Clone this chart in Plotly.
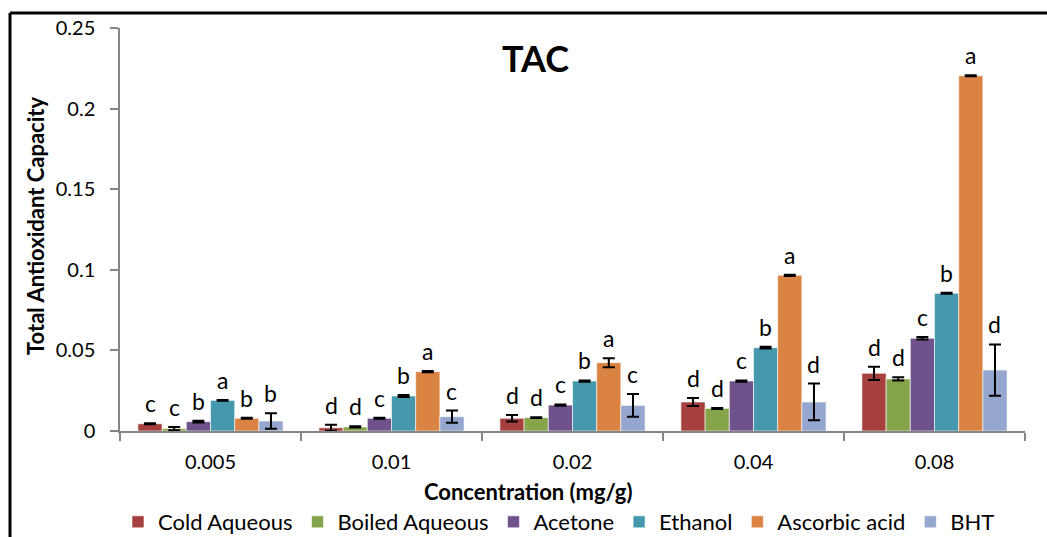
import plotly.graph_objects as go

categories = ["0.005", "0.01", "0.02", "0.04", "0.08"]
series_names = ["Cold Aqueous", "Boiled Aqueous", "Acetone", "Ethanol", "Ascorbic acid", "BHT"]

cold_aqueous = [0.0045, 0.0020, 0.0079, 0.0180, 0.0358]
boiled_aqueous = [0.0015, 0.0025, 0.0083, 0.0140, 0.0323]
acetone = [0.0058, 0.0079, 0.0161, 0.0310, 0.0575]
ethanol = [0.0190, 0.0217, 0.0310, 0.0517, 0.0854]
ascorbic_acid = [0.0079, 0.0368, 0.0424, 0.0966, 0.2204]
bht = [0.0062, 0.0089, 0.0159, 0.0180, 0.0378]

cold_aqueous_err = [0.0003, 0.0018, 0.0020, 0.0025, 0.0041]
boiled_aqueous_err = [0.0010, 0.0004, 0.0003, 0.0003, 0.0010]
acetone_err = [0.0005, 0.0003, 0.0004, 0.0004, 0.0008]
ethanol_err = [0.0003, 0.0006, 0.0004, 0.0005, 0.0003]
ascorbic_acid_err = [0.0003, 0.0004, 0.0028, 0.0004, 0.0003]
bht_err = [0.0048, 0.0038, 0.0071, 0.0114, 0.0159]

cold_aqueous_letters = ["c", "d", "d", "d", "d"]
boiled_aqueous_letters = ["c", "d", "d", "d", "d"]
acetone_letters = ["b", "c", "c", "c", "c"]
ethanol_letters = ["a", "b", "b", "b", "b"]
ascorbic_acid_letters = ["b", "a", "a", "a", "a"]
bht_letters = ["b", "c", "c", "d", "d"]

colors = ["#A5403E", "#86A44A", "#6F528C", "#4598AE", "#DA8343", "#95A7CF"]

values = [cold_aqueous, boiled_aqueous, acetone, ethanol, ascorbic_acid, bht]
errors = [cold_aqueous_err, boiled_aqueous_err, acetone_err, ethanol_err, ascorbic_acid_err, bht_err]
letters = [cold_aqueous_letters, boiled_aqueous_letters, acetone_letters, ethanol_letters,
           ascorbic_acid_letters, bht_letters]

FONT = "Lato"
W, H = 1047, 537
L, R, T, B = 120, 22, 28, 106
PW, PH = W - L - R, H - T - B


def px_x(px):
    return (px - L) / PW


def px_y(py):
    return (H - B - py) / PH


fig = go.Figure()
xs = list(range(len(categories)))
n = len(series_names)
bar_w = 0.802 / n

annotations = []
for k, name in enumerate(series_names):
    fig.add_trace(go.Bar(
        x=xs, y=values[k], name=name,
        marker=dict(color=colors[k], line=dict(color="rgba(255,255,255,0.6)", width=1)),
        error_y=dict(type="data", array=errors[k], visible=True, color="black",
                     thickness=2, width=6),
    ))
    for i in xs:
        annotations.append(dict(
            x=i + (k - (n - 1) / 2) * bar_w, y=values[k][i] + errors[k][i],
            xref="x", yref="y", text=letters[k][i], showarrow=False,
            yanchor="bottom", yshift=4, font=dict(family=FONT, size=23, color="black"),
        ))

annotations.append(dict(x=px_x(535), y=px_y(58), xref="paper", yref="paper",
                        text="<b>TAC</b>", showarrow=False, xanchor="center", yanchor="middle",
                        font=dict(family=FONT, size=36, color="black")))
annotations.append(dict(x=px_x(528), y=px_y(491), xref="paper", yref="paper",
                        text="<b>Concentration (mg/g)</b>", showarrow=False, xanchor="center",
                        yanchor="middle", font=dict(family=FONT, size=22, color="black")))
annotations.append(dict(x=px_x(35), y=px_y(226), xref="paper", yref="paper",
                        text="<b>Total Antioxidant Capacity</b>", showarrow=False, textangle=-90,
                        xanchor="center", yanchor="middle", font=dict(family=FONT, size=22, color="black")))

shapes = [
    dict(type="line", xref="paper", yref="paper", x0=px_x(10), x1=px_x(1060),
         y0=px_y(13), y1=px_y(13), line=dict(color="black", width=3)),
    dict(type="line", xref="paper", yref="paper", x0=px_x(10), x1=px_x(10),
         y0=px_y(13), y1=px_y(545), line=dict(color="black", width=3)),
]

fig.update_layout(
    width=W, height=H,
    margin=dict(l=L, r=R, t=T, b=B, autoexpand=False),
    paper_bgcolor="white", plot_bgcolor="white",
    barmode="group", bargap=0.198, bargroupgap=0,
    font=dict(family=FONT, size=20, color="black"),
    showlegend=True,
    legend=dict(orientation="h", x=px_x(559), y=px_y(522), xanchor="center",
                yanchor="middle", font=dict(family=FONT, size=22, color="black"),
                traceorder="normal", borderwidth=0),
    annotations=annotations,
    shapes=shapes,
)
fig.update_xaxes(
    range=[-0.5, 4.5], tickmode="array", tickvals=xs, ticktext=categories,
    ticks="", showgrid=False, zeroline=False, automargin=False,
    showline=True, linecolor="#868686", linewidth=1.5,
    ticklabelstandoff=12,
    minor=dict(tickmode="array", tickvals=[x - 0.5 for x in range(len(categories) + 1)],
               ticks="outside", ticklen=8, tickcolor="#868686", tickwidth=1.5, showgrid=False),
)
fig.update_yaxes(
    range=[0, 0.25], tickmode="array", tickvals=[0, 0.05, 0.1, 0.15, 0.2, 0.25],
    ticktext=["0", "0.05", "0.1", "0.15", "0.2", "0.25"],
    ticks="outside", ticklen=8, tickcolor="#868686", tickwidth=1.5, automargin=False,
    showgrid=False, zeroline=False, showline=True, linecolor="#868686", linewidth=1.5,
    ticklabelstandoff=11,
)

fig.write_html("out.html", config={"displayModeBar": False},
               post_script="document.body.style.margin='0px';")
